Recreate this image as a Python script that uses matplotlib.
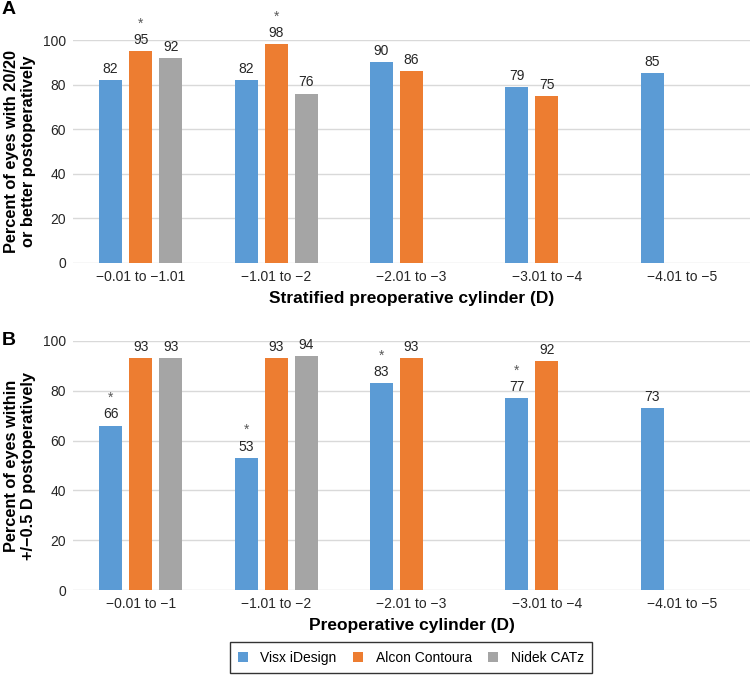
import numpy as np
import matplotlib
matplotlib.use('Agg')
import matplotlib.pyplot as plt

plt.rcParams['font.family'] = ['Liberation Sans', 'DejaVu Sans']

# data
series = ['Visx iDesign', 'Alcon Contoura', 'Nidek CATz']
colors = ['#5B9BD5', '#ED7D31', '#A5A5A5']

cats_a = ['\u22120.01 to \u22121.01', '\u22121.01 to \u22122', '\u22122.01 to \u22123',
          '\u22123.01 to \u22124', '\u22124.01 to \u22125']
visx_a = [82, 82, 90, 79, 85]
alcon_a = [95, 98, 86, 75, None]
nidek_a = [92, 76, None, None, None]
star_a = [[False, False, False, False, False],
          [True, True, False, False, False],
          [False, False, False, False, False]]

cats_b = ['\u22120.01 to \u22121', '\u22121.01 to \u22122', '\u22122.01 to \u22123',
          '\u22123.01 to \u22124', '\u22124.01 to \u22125']
visx_b = [66, 53, 83, 77, 73]
alcon_b = [93, 93, 93, 92, None]
nidek_b = [93, 94, None, None, None]
star_b = [[True, True, True, True, False],
          [False, False, False, False, False],
          [False, False, False, False, False]]


def draw_panel(ax, cats, values, stars, ylabel, xlabel):
    x = np.arange(len(cats))
    width = 0.17
    step = 0.222
    handles = []
    for i, (vals, col) in enumerate(zip(values, colors)):
        pos = x + (i - 1) * step
        heights = [v if v is not None else 0 for v in vals]
        bars = ax.bar(pos, heights, width=width, color=col, zorder=3,
                      label=series[i])
        handles.append(bars)
        for p, v, s in zip(pos, vals, stars[i]):
            if v is None:
                continue
            ax.annotate(str(v), (p, v), xytext=(0, 3), textcoords='offset points',
                        ha='center', va='bottom', fontsize=10, color='#262626',
                        annotation_clip=False)
            if s:
                ax.annotate('*', (p, v), xytext=(0, 15), textcoords='offset points',
                            ha='center', va='bottom', fontsize=10, color='#595959',
                            annotation_clip=False)
    ax.set_xlim(-0.5, len(cats) - 0.5)
    ax.set_ylim(0, 100)
    ax.set_yticks([0, 20, 40, 60, 80, 100])
    ax.set_xticks(x)
    ax.set_xticklabels(cats)
    ax.tick_params(length=0, labelsize=10, labelcolor='#262626', pad=5)
    ax.grid(axis='y', color='#D9D9D9', linewidth=1, zorder=0)
    for sp in ax.spines.values():
        sp.set_visible(False)
    ax.set_ylabel(ylabel, fontsize=11.8, fontweight='bold', labelpad=5,
                  linespacing=1.2)
    ax.set_xlabel(xlabel, fontsize=12.5, fontweight='bold', labelpad=5)
    return handles


fig = plt.figure(figsize=(7.5, 6.75), dpi=100)
ax_a = fig.add_axes([73 / 750, 412 / 675, 677 / 750, 223 / 675])
ax_b = fig.add_axes([73 / 750, 85 / 675, 677 / 750, 249 / 675])

draw_panel(ax_a, cats_a, [visx_a, alcon_a, nidek_a], star_a,
           'Percent of eyes with 20/20\nor better postoperatively',
           'Stratified preoperative cylinder (D)')
handles = draw_panel(ax_b, cats_b, [visx_b, alcon_b, nidek_b], star_b,
                     'Percent of eyes within\n+/\u22120.5 D postoperatively',
                     'Preoperative cylinder (D)')

fig.text(2 / 750, 1 - 1 / 675, 'A', fontsize=14, fontweight='bold',
         ha='left', va='top')
fig.text(2 / 750, 1 - 332 / 675, 'B', fontsize=14, fontweight='bold',
         ha='left', va='top')

leg = fig.legend(handles, series, loc='lower center', ncol=3,
                 bbox_to_anchor=(411 / 750, 2 / 675), borderaxespad=0,
                 fontsize=10, frameon=True, fancybox=False, edgecolor='black',
                 handlelength=0.7, handleheight=0.7, handletextpad=0.9,
                 columnspacing=1.2, borderpad=0.6)
leg.get_frame().set_linewidth(1.0)

fig.savefig('out.png', dpi=100)
